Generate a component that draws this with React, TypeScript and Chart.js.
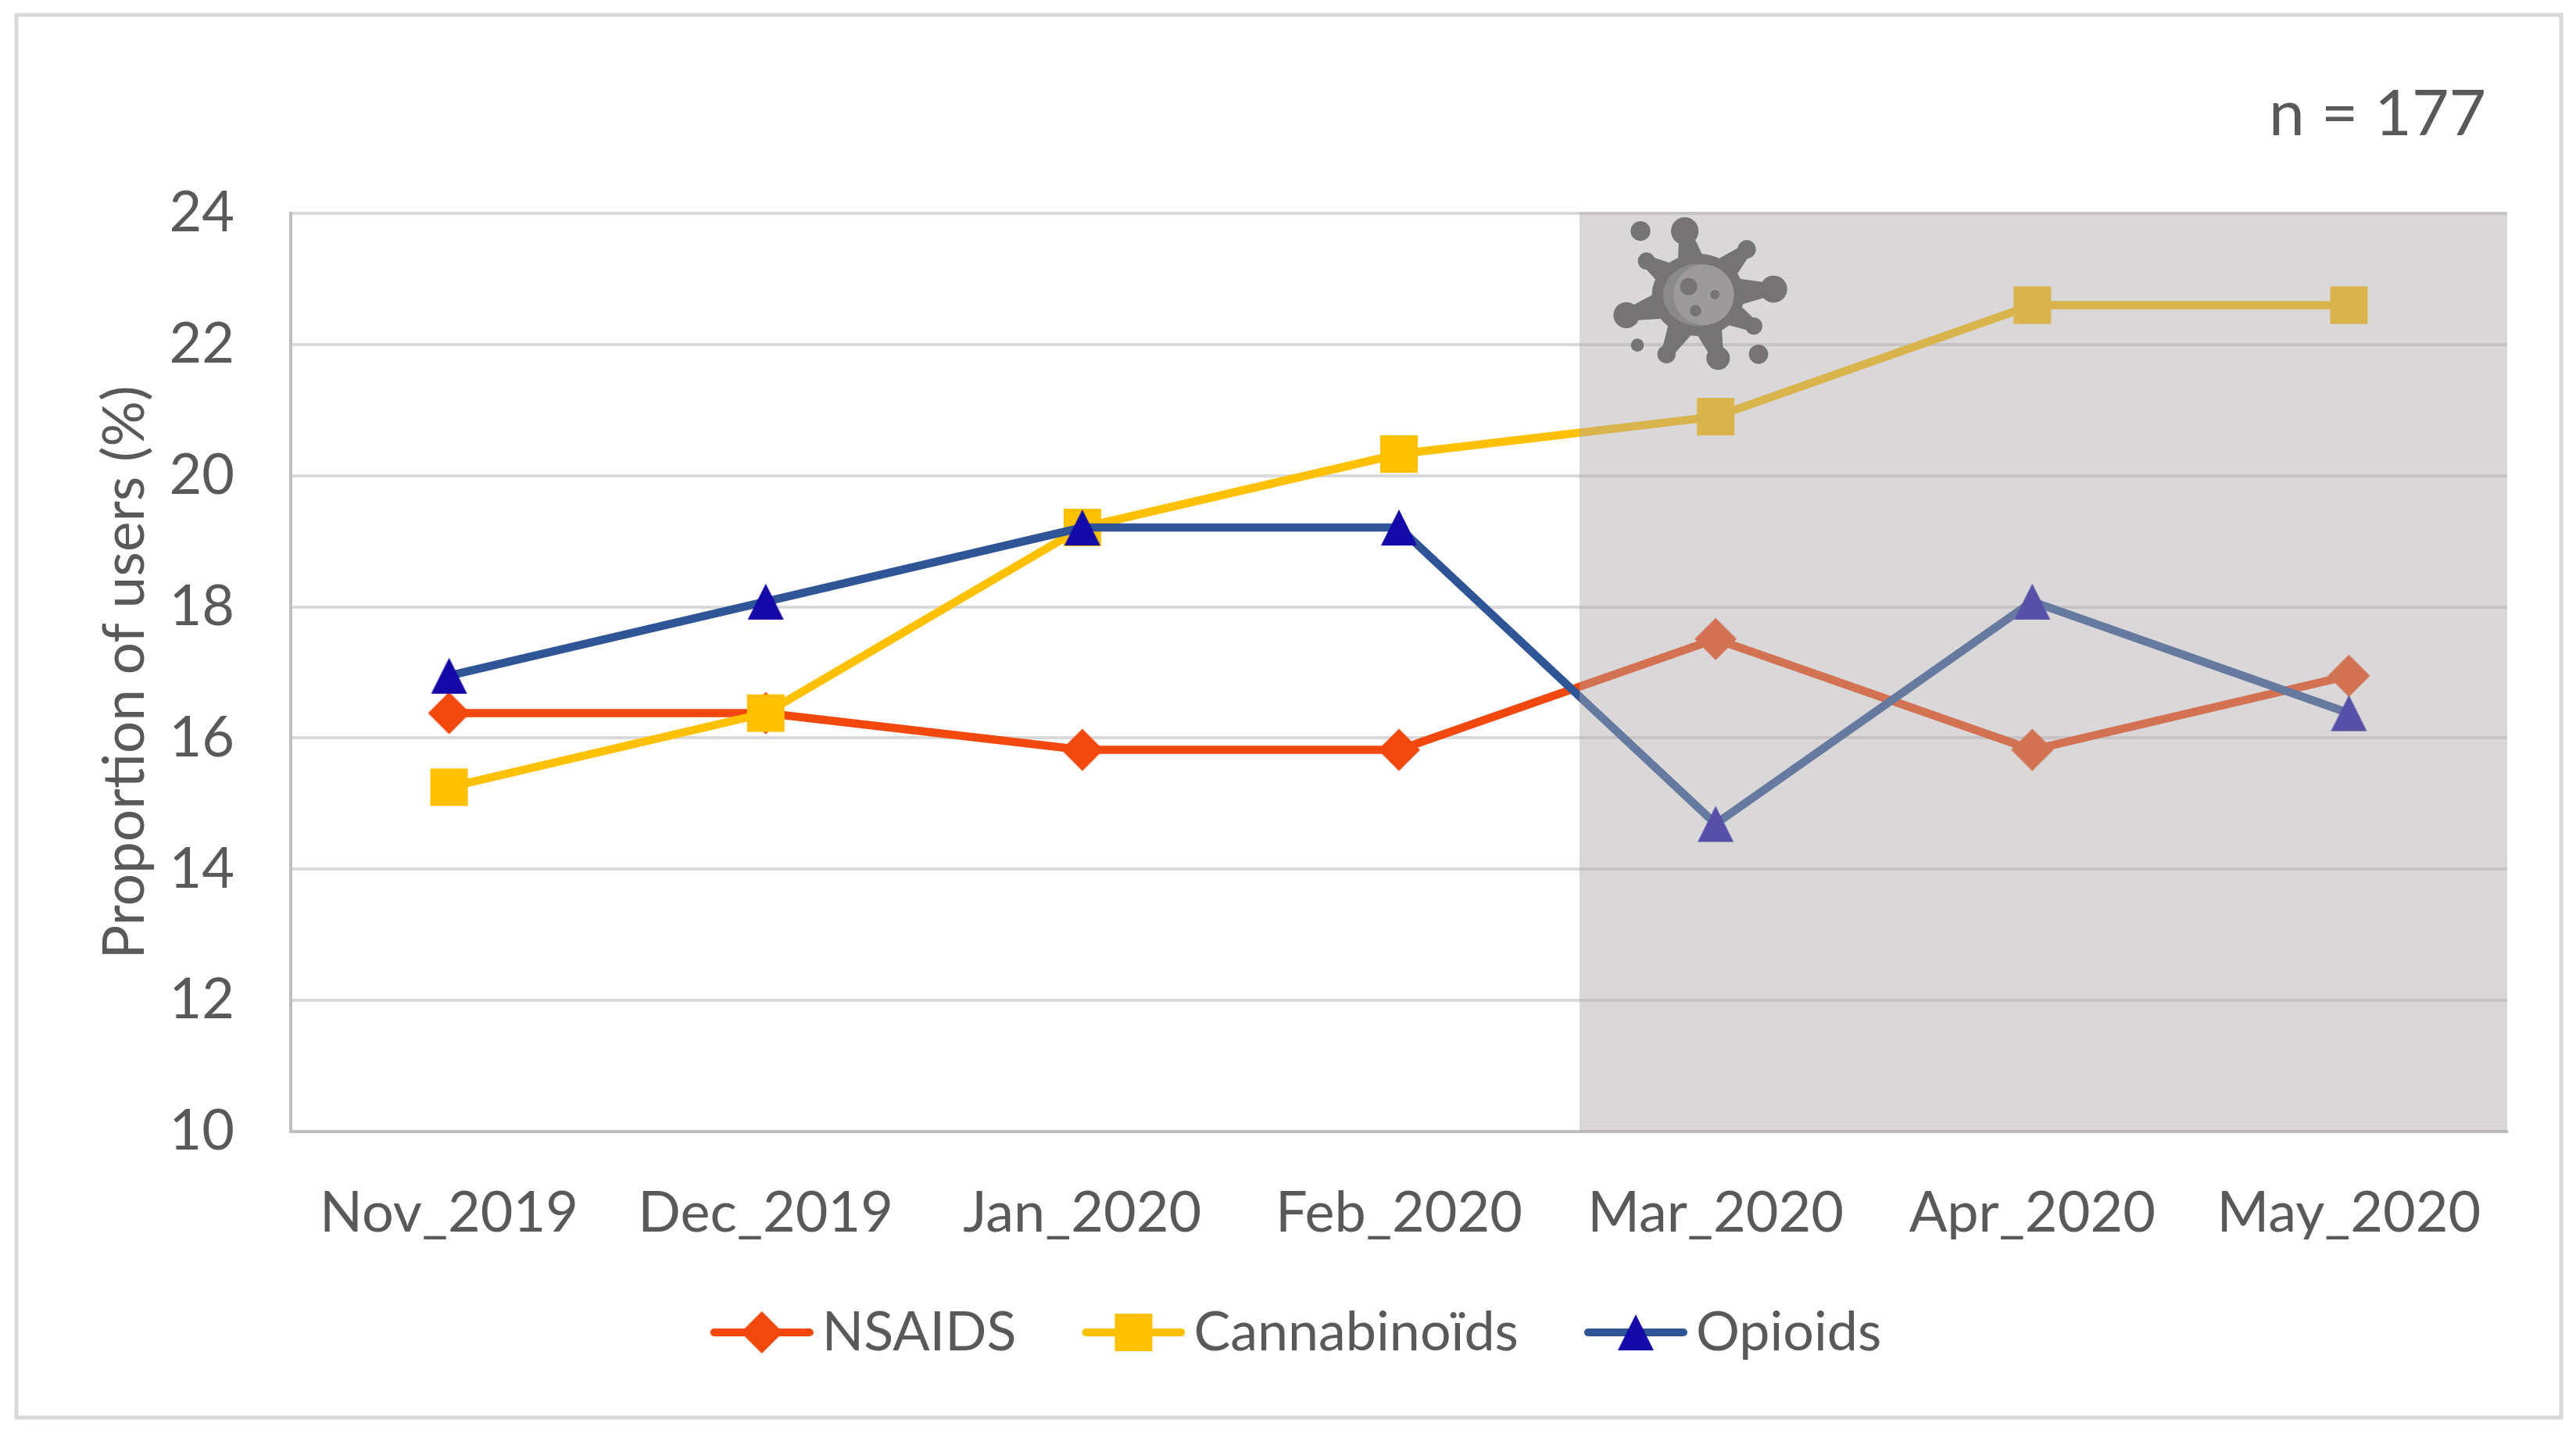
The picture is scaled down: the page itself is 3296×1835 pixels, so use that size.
import { useEffect, useRef } from 'react';
import { Chart, registerables } from 'chart.js';

Chart.register(...registerables);

const MONTHS = ['Nov_2019', 'Dec_2019', 'Jan_2020', 'Feb_2020', 'Mar_2020', 'Apr_2020', 'May_2020'];
const NSAIDS = [16.38, 16.38, 15.82, 15.82, 17.51, 15.82, 16.95];
const CANNABINOIDS = [15.25, 16.38, 19.21, 20.33, 20.9, 22.6, 22.6];
const OPIOIDS = [16.95, 18.08, 19.21, 19.21, 14.69, 18.08, 16.38];

const FONT = 'Lato';
const TEXT = '#595959';
const SHADE_START = 3.57; // the grey band starts just right of the Feb/Mar midpoint

type Shape = 'diamond' | 'square' | 'triangle';

// path of a marker, centred on its bounding box
function drawMarker(ctx: CanvasRenderingContext2D, shape: Shape, x: number, y: number, color: string) {
  ctx.fillStyle = color;
  ctx.beginPath();
  if (shape === 'diamond') {
    ctx.moveTo(x, y - 27);
    ctx.lineTo(x + 27, y);
    ctx.lineTo(x, y + 27);
    ctx.lineTo(x - 27, y);
  } else if (shape === 'square') {
    ctx.rect(x - 24, y - 24, 48, 48);
  } else {
    ctx.moveTo(x, y - 23);
    ctx.lineTo(x + 23, y + 23);
    ctx.lineTo(x - 23, y + 23);
  }
  ctx.closePath();
  ctx.fill();
}

function markerImage(shape: Shape, color: string) {
  const c = document.createElement('canvas');
  c.width = 56;
  c.height = 56;
  drawMarker(c.getContext('2d')!, shape, 28, 28, color);
  return c;
}

// line + marker sample for the legend, shifted so the text gap comes out right
function legendImage(shape: Shape, lineColor: string, color: string) {
  const c = document.createElement('canvas');
  c.width = 156;
  c.height = 60;
  const ctx = c.getContext('2d')!;
  ctx.strokeStyle = lineColor;
  ctx.lineWidth = 10;
  ctx.lineCap = 'round';
  ctx.beginPath();
  ctx.moveTo(29, 30);
  ctx.lineTo(151, 30);
  ctx.stroke();
  drawMarker(ctx, shape, 90, 30, color);
  return c;
}

const framePlugin = {
  id: 'frame',
  beforeDraw(chart: Chart) {
    const { ctx } = chart;
    ctx.save();
    ctx.fillStyle = '#fff';
    ctx.fillRect(0, 0, chart.width, chart.height);
    ctx.strokeStyle = '#D9D9D9';
    ctx.lineWidth = 5;
    ctx.strokeRect(21, 19, 3256, 1795);
    ctx.fillStyle = TEXT;
    ctx.font = `82px ${FONT}`;
    ctx.textAlign = 'right';
    ctx.textBaseline = 'middle';
    ctx.fillText('n = 177', 3181, 147);
    ctx.restore();
  },
};

// spike ends of the virus icon: x, y, r in zoomed reference units (3x)
const SPIKES = [
  [617, 197, 53], [855, 267, 35], [958, 420, 52], [882, 562, 33],
  [745, 685, 45], [547, 670, 35], [393, 520, 50], [470, 312, 33],
];
const DROPS = [[447, 197, 38], [435, 635, 25], [900, 670, 37]];
const SPOTS = [[632, 410, 33], [733, 441, 18], [658, 503, 22]];

function drawVirus(ctx: CanvasRenderingContext2D) {
  const cx = 668;
  const cy = 442;
  ctx.save();
  ctx.translate(1950, 230);
  ctx.scale(1 / 3, 1 / 3);
  const dot = ([x, y, r]: number[]) => {
    ctx.beginPath();
    ctx.arc(x, y, r, 0, Math.PI * 2);
    ctx.fill();
  };
  ctx.fillStyle = '#757373';
  // spikes taper from the body out to their blob
  SPIKES.forEach(([x, y]) => {
    const len = Math.hypot(x - cx, y - cy);
    const nx = -(y - cy) / len;
    const ny = (x - cx) / len;
    ctx.beginPath();
    ctx.moveTo(cx + nx * 85, cy + ny * 85);
    ctx.lineTo(x + nx * 22, y + ny * 22);
    ctx.lineTo(x - nx * 22, y - ny * 22);
    ctx.lineTo(cx - nx * 85, cy - ny * 85);
    ctx.closePath();
    ctx.fill();
  });
  SPIKES.forEach(dot);
  DROPS.forEach(dot);
  ctx.beginPath();
  ctx.ellipse(cx, cy, 177, 158, 0, 0, Math.PI * 2);
  ctx.fill();
  ctx.fillStyle = '#8B8989';
  ctx.beginPath();
  ctx.ellipse(670, cy, 136, 120, 0, 0, Math.PI * 2);
  ctx.fill();
  ctx.fillStyle = '#9C9A9A';
  ctx.beginPath();
  ctx.ellipse(690, cy, 116, 116, 0, 0, Math.PI * 2);
  ctx.fill();
  ctx.fillStyle = '#757373';
  SPOTS.forEach(dot);
  ctx.restore();
}

const shadePlugin = {
  id: 'shade',
  afterDatasetsDraw(chart: Chart) {
    const { ctx, chartArea, scales } = chart;
    const left = scales.x.getPixelForValue(SHADE_START);
    ctx.save();
    ctx.fillStyle = 'rgba(171, 167, 169, 0.45)';
    ctx.fillRect(left, chartArea.top - 2, chartArea.right - left, chartArea.bottom - chartArea.top + 2);
    ctx.restore();
    drawVirus(ctx);
  },
};

export default function App() {
  const chartRef = useRef<HTMLCanvasElement>(null);

  useEffect(() => {
    if (!chartRef.current) return;

    const series: { label: string; data: number[]; line: string; marker: string; shape: Shape }[] = [
      { label: 'NSAIDS', data: NSAIDS, line: '#F2480E', marker: '#F2480E', shape: 'diamond' },
      { label: 'Cannabinoïds', data: CANNABINOIDS, line: '#FFC000', marker: '#FFC000', shape: 'square' },
      { label: 'Opioids', data: OPIOIDS, line: '#2F5597', marker: '#1409A8', shape: 'triangle' },
    ];

    const chart = new Chart(chartRef.current, {
      type: 'line',
      data: {
        labels: MONTHS,
        datasets: series.map((s, i) => ({
          label: s.label,
          data: s.data,
          borderColor: s.line,
          backgroundColor: s.marker,
          borderWidth: 10.5,
          tension: 0,
          pointStyle: markerImage(s.shape, s.marker),
          pointRadius: 24,
          order: series.length - i,
        })),
      },
      options: {
        responsive: false,
        devicePixelRatio: 1,
        animation: false,
        layout: { padding: { left: 108, right: 88, top: 273, bottom: 85 } },
        plugins: {
          title: { display: false },
          tooltip: { enabled: false },
          legend: {
            position: 'bottom',
            labels: {
              usePointStyle: true,
              pointStyleWidth: 108,
              padding: 84,
              color: TEXT,
              font: { family: FONT, size: 70 },
              generateLabels: () =>
                series.map((s, i) => ({
                  text: s.label,
                  datasetIndex: i,
                  fontColor: TEXT,
                  pointStyle: legendImage(s.shape, s.line, s.marker),
                })),
            },
          },
        },
        scales: {
          x: {
            offset: true,
            afterFit: (scale) => {
              scale.height = 138;
            },
            grid: { display: false, drawTicks: false },
            border: { color: '#BFBFBF', width: 4 },
            ticks: { color: TEXT, font: { family: FONT, size: 72 }, padding: 62, maxRotation: 0, autoSkip: false },
          },
          y: {
            min: 10,
            max: 24,
            afterFit: (scale) => {
              scale.width = 264;
            },
            grid: { color: '#D9D9D9', lineWidth: 4, drawTicks: false },
            border: { color: '#BFBFBF', width: 4 },
            ticks: { stepSize: 2, color: TEXT, padding: 72, font: { family: FONT, size: 72 } },
            title: {
              display: true,
              text: 'Proportion of users (%)',
              color: TEXT,
              font: { family: FONT, size: 73 },
              padding: { top: 9, bottom: 0 },
            },
          },
        },
      },
      plugins: [framePlugin, shadePlugin],
    });

    return () => {
      chart.destroy();
    };
  }, []);

  return (
    <div style={{ position: 'absolute', left: 0, top: 0, width: 3296, height: 1835 }}>
      <canvas ref={chartRef} width={3296} height={1835} style={{ display: 'block' }} />
    </div>
  );
}
